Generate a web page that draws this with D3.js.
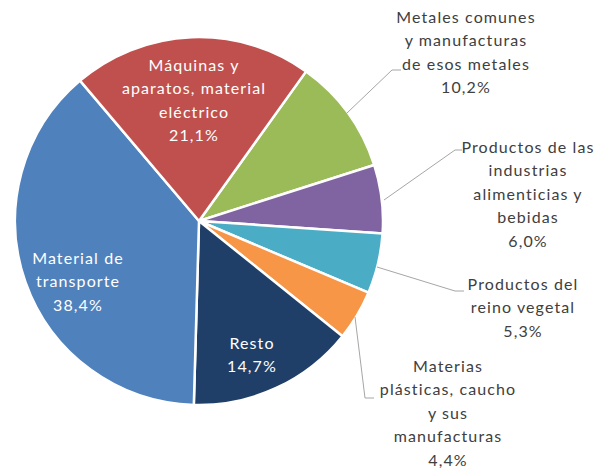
<!DOCTYPE html>
<html>
<head>
<meta charset="utf-8">
<script src="https://cdn.jsdelivr.net/npm/d3@7"></script>
<style>
  body { margin: 0; background: #fff; }
  svg text { font-family: Lato, "Open Sans", sans-serif; }
</style>
</head>
<body>
<div id="vis"></div>
<script>
const WIDTH = 603;
const HEIGHT = 472;

// data, clockwise from the upper right edge of the red slice
const categories = [
  'Metales comunes y manufacturas de esos metales',
  'Productos de las industrias alimenticias y bebidas',
  'Productos del reino vegetal',
  'Materias plásticas, caucho y sus manufacturas',
  'Resto',
  'Material de transporte',
  'Máquinas y aparatos, material eléctrico'
]
const values = [10.2, 6.0, 5.3, 4.4, 14.7, 38.4, 21.1]
const labelLines = [
  ['Metales comunes', 'y manufacturas', 'de esos metales'],
  ['Productos de las', 'industrias', 'alimenticias y', 'bebidas'],
  ['Productos del', 'reino vegetal'],
  ['Materias', 'plásticas, caucho', 'y sus', 'manufacturas'],
  ['Resto'],
  ['Material de', 'transporte'],
  ['Máquinas y', 'aparatos, material', 'eléctrico']
]
const colors = ['#9BBB59', '#8064A2', '#4BACC6', '#F79646', '#1F3F68', '#4F81BD', '#C0504D']

// label placement: inside labels at [x, y], outside ones with leader lines
const labelPos = [
  { x: 466, y: 17, inside: false, leader: [[347, 113], [392, 70], [401, 70]] },
  { x: 528, y: 147, inside: false, leader: [[384, 200], [455, 150], [462, 150]] },
  { x: 523, y: 284, inside: false, leader: [[377, 267], [455, 291], [464, 291]] },
  { x: 448, y: 366, inside: false, leader: [[355, 317], [365, 398], [374, 398]] },
  { x: 252, y: 343, inside: true },
  { x: 78, y: 258, inside: true },
  { x: 194, y: 65, inside: true }
]

const fmt = v => d3.format('.1f')(v).replace('.', ',') + '%'

const cx = 199, cy = 221, R = 184
const startDeg = 35.6

const svg = d3.select('#vis').append('svg')
  .attr('width', WIDTH)
  .attr('height', HEIGHT)

const pie = d3.pie().sort(null)
  .startAngle(startDeg * Math.PI / 180)
  .endAngle(startDeg * Math.PI / 180 + 2 * Math.PI)

const arc = d3.arc().innerRadius(0).outerRadius(R)

const g = svg.append('g').attr('transform', `translate(${cx},${cy})`)

g.selectAll('path')
  .data(pie(values))
  .enter()
  .append('path')
  .attr('d', arc)
  .attr('fill', (d, i) => colors[i])
  .attr('stroke', '#fff')
  .attr('stroke-width', 2.5)
  .attr('stroke-linejoin', 'round')

// leader lines
const line = d3.line()
svg.selectAll('.leader')
  .data(labelPos.filter(p => !p.inside))
  .enter()
  .append('path')
  .attr('class', 'leader')
  .attr('d', d => line(d.leader))
  .attr('fill', 'none')
  .attr('stroke', '#A6A6A6')
  .attr('stroke-width', 1)

// labels
const LINE_H = 23.5
labelPos.forEach((p, i) => {
  const lines = labelLines[i].concat([fmt(values[i])])
  const t = svg.append('text')
    .attr('text-anchor', 'middle')
    .attr('font-size', '16px')
    .attr('letter-spacing', '1.1px')
    .attr('fill', p.inside ? '#fff' : '#404040')
  lines.forEach((s, j) => {
    t.append('tspan')
      .attr('x', p.x)
      .attr('y', p.y + j * LINE_H)
      .attr('dy', '0.35em')
      .text(s)
  })
})
</script>
</body>
</html>
